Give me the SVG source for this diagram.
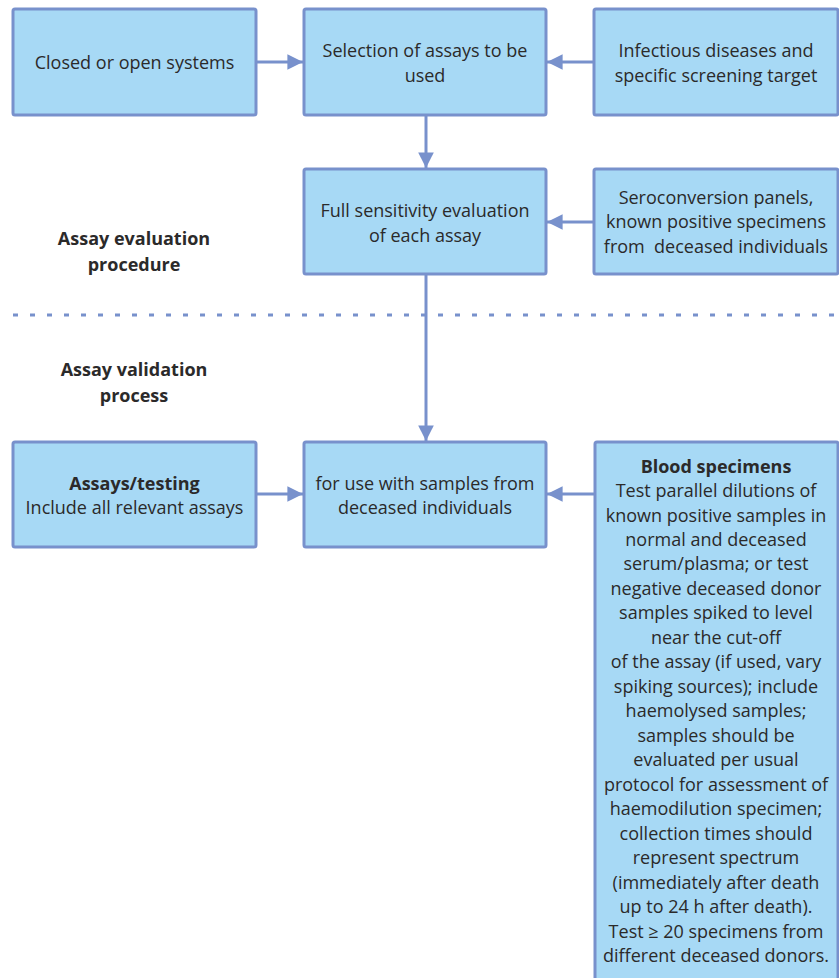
<svg xmlns="http://www.w3.org/2000/svg" width="839" height="978" viewBox="0 0 839 978">
  <style>
    .box { fill: #a7d9f5; stroke: #7891cc; stroke-width: 3; }
    .wire { stroke: #7891cc; stroke-width: 3; fill: none; }
    .sep { stroke: #7891cc; stroke-width: 3; stroke-dasharray: 5 12; fill: none; }
    text { font-family: "Open Sans", "Noto Sans", sans-serif; font-size: 18px; fill: #2b2a2a; text-anchor: middle; dominant-baseline: central; }
    .b { font-weight: bold; }
  </style>
  <defs>
    <marker id="head" viewBox="0 0 10 10" refX="10" refY="5" markerWidth="5.2" markerHeight="5.2" markerUnits="strokeWidth" orient="auto">
      <path d="M0,0 L10,5 L0,10 Z" fill="#7891cc"/>
    </marker>
  </defs>

  <rect width="839" height="978" fill="#ffffff"/>

  <!-- section separator -->
  <line class="sep" x1="13" y1="315" x2="839" y2="315"/>

  <!-- section labels -->
  <g id="label-evaluation">
    <text class="b" x="134" y="238">Assay evaluation</text>
    <text class="b" x="134" y="264">procedure</text>
  </g>
  <g id="label-validation">
    <text class="b" x="134" y="369">Assay validation</text>
    <text class="b" x="134" y="395">process</text>
  </g>

  <!-- connectors -->
  <g id="connectors">
    <line class="wire" x1="256" y1="62" x2="303" y2="62" marker-end="url(#head)"/>
    <line class="wire" x1="594" y1="62" x2="547" y2="62" marker-end="url(#head)"/>
    <line class="wire" x1="426" y1="115" x2="426" y2="168" marker-end="url(#head)"/>
    <line class="wire" x1="594" y1="222" x2="547" y2="222" marker-end="url(#head)"/>
    <line class="wire" x1="426" y1="274" x2="426" y2="441" marker-end="url(#head)"/>
    <line class="wire" x1="256" y1="494" x2="303" y2="494" marker-end="url(#head)"/>
    <line class="wire" x1="595" y1="494" x2="547" y2="494" marker-end="url(#head)"/>
  </g>

  <g id="closed-open">
    <rect class="box" x="13" y="9" width="243" height="106" rx="2"/>
    <text x="134.5" y="62">Closed or open systems</text>
  </g>

  <g id="selection">
    <rect class="box" x="304" y="9" width="242" height="106" rx="2"/>
    <text x="425" y="50">Selection of assays to be</text>
    <text x="425" y="75">used</text>
  </g>

  <g id="targets">
    <rect class="box" x="594" y="9" width="244" height="106" rx="2"/>
    <text x="716" y="50">Infectious diseases and</text>
    <text x="716" y="75">specific screening target</text>
  </g>

  <g id="sensitivity">
    <rect class="box" x="304" y="169" width="242" height="105" rx="2"/>
    <text x="425" y="210">Full sensitivity evaluation</text>
    <text x="425" y="235">of each assay</text>
  </g>

  <g id="panels">
    <rect class="box" x="594" y="169" width="244" height="105" rx="2"/>
    <text x="716" y="197">Seroconversion panels,</text>
    <text x="716" y="221">known positive specimens</text>
    <text x="716" y="246" xml:space="preserve">from  deceased individuals</text>
  </g>

  <g id="assays-testing">
    <rect class="box" x="13" y="442" width="243" height="105" rx="2"/>
    <text class="b" x="134.5" y="483">Assays/testing</text>
    <text x="134.5" y="507">Include all relevant assays</text>
  </g>

  <g id="samples-use">
    <rect class="box" x="304" y="442" width="242" height="105" rx="2"/>
    <text x="425" y="483">for use with samples from</text>
    <text x="425" y="507">deceased individuals</text>
  </g>

  <g id="blood-specimens">
    <rect class="box" x="595" y="442" width="243" height="560" rx="2"/>
    <text class="b" x="716" y="466">Blood specimens</text>
    <text x="716" y="490">Test parallel dilutions of</text>
    <text x="716" y="515">known positive samples in</text>
    <text x="716" y="539">normal and deceased</text>
    <text x="716" y="563">serum/plasma; or test</text>
    <text x="716" y="588">negative deceased donor</text>
    <text x="716" y="612">samples spiked to level</text>
    <text x="716" y="637">near the cut-off</text>
    <text x="716" y="661">of the assay (if used, vary</text>
    <text x="716" y="686">spiking sources); include</text>
    <text x="716" y="710">haemolysed samples;</text>
    <text x="716" y="735">samples should be</text>
    <text x="716" y="759">evaluated per usual</text>
    <text x="716" y="784">protocol for assessment of</text>
    <text x="716" y="808">haemodilution specimen;</text>
    <text x="716" y="833">collection times should</text>
    <text x="716" y="857">represent spectrum</text>
    <text x="716" y="882">(immediately after death</text>
    <text x="716" y="906">up to 24 h after death).</text>
    <text x="716" y="931">Test ≥ 20 specimens from</text>
    <text x="716" y="955">different deceased donors.</text>
  </g>
</svg>
